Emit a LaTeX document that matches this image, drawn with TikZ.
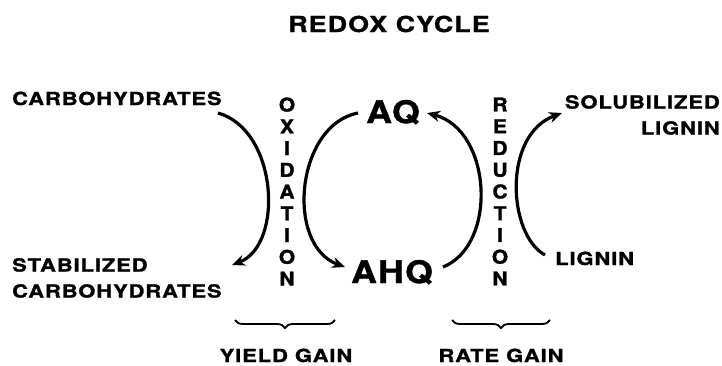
\documentclass[tikz,border=0pt]{standalone}
\usepackage{fontspec}
\setmainfont{TeX Gyre Heros}
\newfontfamily\labfont[FakeStretch=1.22,LetterSpace=5,FakeBold=1.3]{TeX Gyre Heros}
\newfontfamily\bigfont[FakeStretch=1.15,LetterSpace=4,FakeBold=1.5]{TeX Gyre Heros}
\newfontfamily\vertfont[FakeStretch=1.1,FakeBold=1.5]{TeX Gyre Heros}
\usetikzlibrary{arrows.meta,decorations.pathreplacing}
\begin{document}
\begin{tikzpicture}[x=1pt,y=-1pt,
  lab/.style={inner sep=0pt,font=\labfont\bfseries\fontsize{18}{26}\selectfont},
  big/.style={inner sep=0pt,font=\bigfont\bfseries\fontsize{31}{36}\selectfont},
  ttl/.style={inner sep=0pt,font=\labfont\bfseries\fontsize{22}{24}\selectfont},
  vert/.style={inner sep=0pt,align=center,font=\vertfont\bfseries\fontsize{19}{21.75}\selectfont},
  arc/.style={line width=3.2pt,-{Stealth[length=13pt,width=11pt]}},
  brc/.style={line width=1.8pt,decorate,decoration={brace,amplitude=8pt,mirror}}]
\useasboundingbox (0,0) rectangle (722,365);
% texts
\node[ttl,anchor=base] (title) at (389,32) {REDOX CYCLE};
\node[lab,anchor=base west] (carb) at (12,105) {CARBOHYDRATES};
\node[lab,anchor=north west,align=left] (stab) at (12,258) {STABILIZED\\CARBOHYDRATES};
\node[lab,anchor=north east,align=right] (sol) at (720,95) {SOLUBILIZED\\LIGNIN};
\node[lab,anchor=base west] (lig) at (555,265) {LIGNIN};
\node[big,anchor=base] (aq) at (393,123) {AQ};
\node[big,anchor=base] (ahq) at (392,283) {AHQ};
\node[vert] (ox) at (287,191.5) {O\\X\\I\\D\\A\\T\\I\\O\\N};
\node[vert] (red) at (500,191.5) {R\\E\\D\\U\\C\\T\\I\\O\\N};
\node[lab,anchor=base] (yg) at (286,362) {YIELD GAIN};
\node[lab,anchor=base] (rg) at (501,362) {RATE GAIN};
% connector end points
\coordinate (c1s) at (218,113); \coordinate (c1e) at (232,265);
\coordinate (c2s) at (358,113); \coordinate (c2e) at (345,267);
\coordinate (c3s) at (443,267); \coordinate (c3e) at (427,113);
\coordinate (c4s) at (545,255); \coordinate (c4e) at (562,113);
% arcs
\draw[arc] (c1s) .. controls (278,130) and (284,245) .. (c1e);
\draw[arc] (c2s) .. controls (296,125) and (285,245) .. (c2e);
\draw[arc] (c3s) .. controls (498,245) and (492,130) .. (c3e);
\draw[arc] (c4s) .. controls (508,235) and (502,135) .. (c4e);
% braces
\coordinate (b1l) at (235,320); \coordinate (b1r) at (335,320);
\coordinate (b2l) at (452,320); \coordinate (b2r) at (550,320);
\draw[brc] (b1l) -- (b1r);
\draw[brc] (b2l) -- (b2r);
\end{tikzpicture}
\end{document}
